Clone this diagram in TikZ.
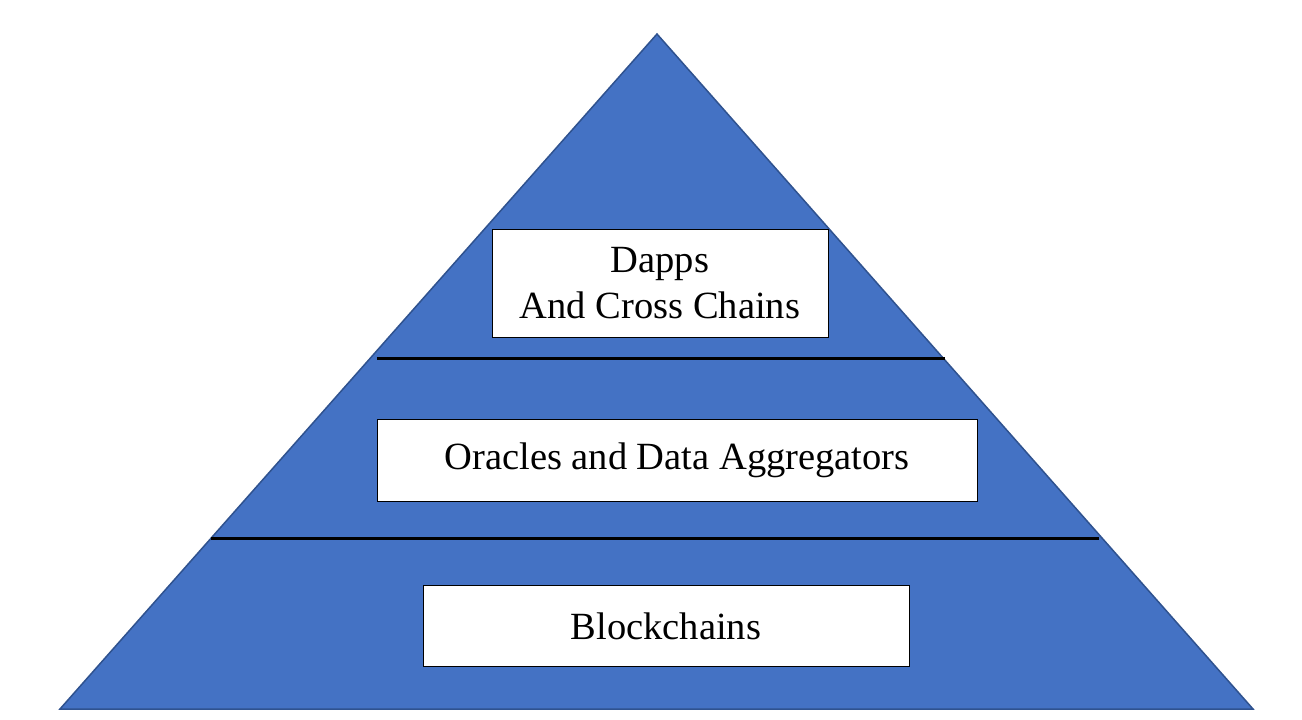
\documentclass[tikz,border=0pt]{standalone}
\usepackage{fontspec}
\setmainfont{Liberation Serif}
\usetikzlibrary{positioning}
\definecolor{layerblue}{HTML}{4472C4}
\definecolor{layeredge}{HTML}{2F528F}

\begin{document}
\begin{tikzpicture}[%
        x=1pt, y=-1pt,
        every node/.style={rectangle, draw=black, fill=white, line width=0.8pt, inner sep=0pt,
          font=\fontsize{38.5}{46}\selectfont, align=center},
        divider/.style={line width=3pt, black}
      ]
      \useasboundingbox (0,0) rectangle (1302,720);
      \coordinate (top) at (657,34);
      \coordinate (left) at (60,709);
      \coordinate (right) at (1253,709);
      \coordinate (a1) at (377,358);
      \coordinate (b1) at (945,358);
      \coordinate (a2) at (211,538);
      \coordinate (b2) at (1099,538);
      \draw [fill=layerblue, draw=layeredge, line width=1.5pt] (top) -- (right) -- (left) -- cycle;
      \path [draw, divider] (a1) -- (b1)
      (a2) -- (b2);
      \node [] (0) [minimum width=336pt, minimum height=108pt] at (660,283) {Dapps\\ And Cross Chains};
      \node [] (1) [minimum width=600pt, minimum height=82pt] at (677,460) {Oracles and Data Aggregators};
      \node [] (2) [minimum width=486pt, minimum height=81pt] at (666,626) {Blockchains};
    \end{tikzpicture}
\end{document}
